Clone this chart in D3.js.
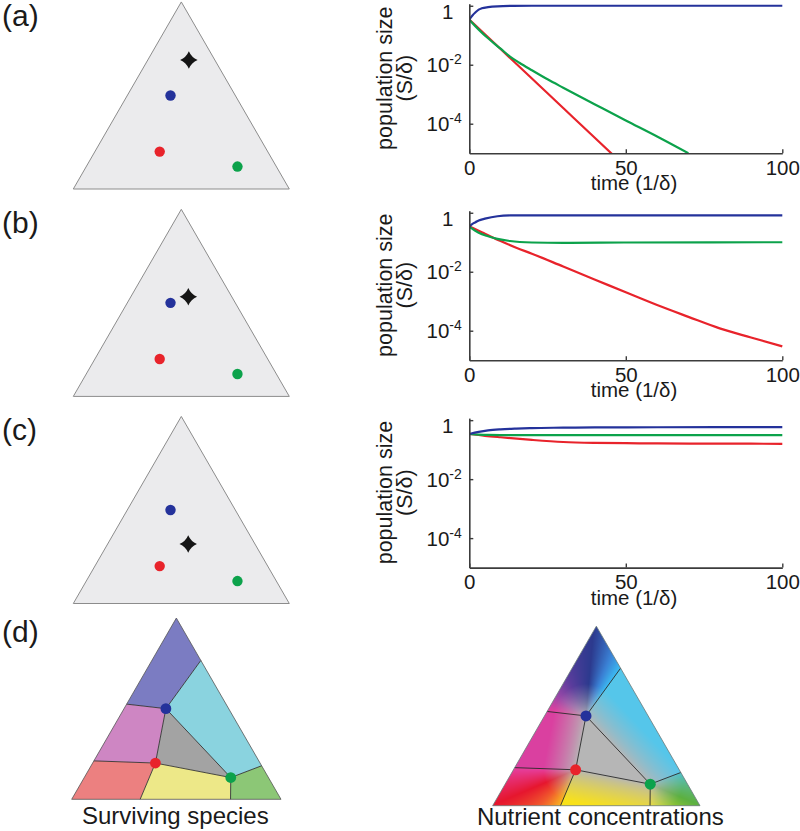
<!DOCTYPE html>
<html>
<head>
<meta charset="utf-8">
<script src="https://cdn.jsdelivr.net/npm/d3@7/dist/d3.min.js"></script>
<style>
html,body{margin:0;padding:0;background:#fff;}
svg{display:block;font-family:"Liberation Sans",Arial,Helvetica,sans-serif;}
</style>
</head>
<body>
<svg id="chart" width="800" height="831"></svg>
<script>
// ================= DATA =================
const panelLabels = ["(a)", "(b)", "(c)", "(d)"];
const xTickValues = [0, 50, 100];
const yTickValues = [1e-4, 1e-2, 1];
const xTitle = "time (1/δ)";
const yTitleLines = ["population size", "(S/δ)"];
const bottomTitles = ["Surviving species", "Nutrient concentrations"];

const speciesNames = ["blue", "red", "green"];
const speciesColors = ["#24329b", "#e8232b", "#0ca24b"];
// ternary coordinates (top, left, right) of species strategies
const speciesTop = [0.50, 0.20, 0.12];
const speciesLeft = [0.30, 0.50, 0.18];
const speciesRight = [0.20, 0.30, 0.70];
// supply point (star) for panels a, b, c
const supplyTop = [0.690, 0.533, 0.318];
const supplyLeft = [0.120, 0.201, 0.309];
const supplyRight = [0.190, 0.266, 0.373];

// ----- time series, panel (a) -----
const tBlueA = [0, 1, 2, 3, 4, 6, 9, 14, 20, 100];
const blueA = [0.34, 0.47, 0.60, 0.74, 0.82, 0.90, 0.96, 0.99, 1.0, 1.0];
const tRedA = [0, 10, 20, 30, 40, 47];
const redA = [0.34, 0.034, 3.4e-3, 3.4e-4, 3.4e-5, 6.8e-6];
const tGreenA = [0, 2, 4, 6, 8, 10, 13, 16, 20, 25, 30, 35, 40, 50, 60, 70];
const greenA = [0.34, 0.20, 0.123, 0.079, 0.052, 0.035, 0.019, 0.0117, 6.5e-3, 3.2e-3, 1.66e-3, 8.7e-4, 4.6e-4, 1.29e-4, 3.7e-5, 1.0e-5];
// ----- panel (b) -----
const tBlueB = [0, 1, 2, 3, 5, 9, 13, 20, 100];
const blueB = [0.34, 0.42, 0.48, 0.55, 0.63, 0.76, 0.81, 0.82, 0.82];
const tRedB = [0, 2, 5, 10, 15, 20, 30, 40, 50, 60, 70, 80, 90, 100];
const redB = [0.34, 0.275, 0.195, 0.11, 0.065, 0.041, 0.015, 5.5e-3, 2.0e-3, 7.4e-4, 2.95e-4, 1.2e-4, 5.9e-5, 2.95e-5];
const tGreenB = [0, 3, 6, 9, 13, 20, 30, 50, 100];
const greenB = [0.34, 0.21, 0.16, 0.13, 0.11, 0.098, 0.095, 0.098, 0.10];
// ----- panel (c) -----
const tBlueC = [0, 3, 6, 10, 15, 20, 30, 40, 60, 100];
const blueC = [0.34, 0.40, 0.45, 0.49, 0.52, 0.54, 0.556, 0.57, 0.575, 0.58];
const tRedC = [0, 5, 10, 20, 30, 40, 50, 60, 80, 100];
const redC = [0.34, 0.295, 0.263, 0.214, 0.182, 0.17, 0.166, 0.162, 0.16, 0.158];
const tGreenC = [0, 3, 6, 10, 100];
const greenC = [0.34, 0.324, 0.316, 0.313, 0.313];

// ----- panel (d): partition of the simplex -----
const edgePointNames = ["top", "left", "right", "L1", "L2", "P1", "P2", "B1", "B2"];
const edgePointTop   = [1, 0, 0, 0.525, 0.212, 0.766, 0.185, 0, 0];
const edgePointLeft  = [0, 1, 0, 0.475, 0.788, 0, 0, 0.673, 0.241];
const edgePointRight = [0, 0, 1, 0, 0, 0.234, 0.815, 0.327, 0.759];
const regionVertices = [
  ["top", "P1", "blue", "L1"],
  ["P1", "P2", "green", "blue"],
  ["L1", "blue", "red", "L2"],
  ["blue", "green", "red"],
  ["L2", "red", "B1", "left"],
  ["red", "green", "B2", "B1"],
  ["green", "P2", "right", "B2"]
];
const regionSpecies = [["blue"], ["blue", "green"], ["blue", "red"], ["blue", "red", "green"], ["red"], ["red", "green"], ["green"]];
const regionFills = ["#7b7cc2", "#8ad3df", "#ce86c3", "#a3a3a3", "#ec8080", "#ede888", "#8cc776"];
const boundarySegments = [["P1", "blue"], ["L1", "blue"], ["blue", "red"], ["blue", "green"], ["red", "green"],
  ["L2", "red"], ["red", "B1"], ["green", "B2"], ["green", "P2"]];

// nutrient colour map (direction angle -> hue colour)
const hueAngles = [0, 20, 43, 55, 68, 85, 115, 145, 170, 180, 203, 225, 248, 260, 275, 300, 337, 360];
const hueColors = ["#5ab888", "#50c0c8", "#56c6ea", "#3cb8f0", "#3a80d4", "#2c3a8e", "#5a3c9c", "#9a48a8",
  "#dc40a0", "#e63c98", "#e6162e", "#f05a2c", "#f8b820", "#f8e41a", "#f0e420", "#b8d42c", "#5cb040", "#5ab888"];

// ================= DRAW =================
const svg = d3.select("#chart");
const defs = svg.append("defs");
const textColor = "#1a1a1a";

function ternary(layout) {
  const width = layout.right - layout.left;
  const height = width * Math.sqrt(3) / 2;
  const sx = d3.scaleLinear().domain([0, 1]).range([layout.left, layout.right]);
  const sy = d3.scaleLinear().domain([0, 1]).range([layout.bottom, layout.bottom - height]);
  const f = (a, b, c) => { const s = a + b + c; a /= s; c /= s; return [sx(c + a / 2), sy(a)]; };
  f.height = height; f.width = width; f.sx = sx; f.sy = sy; f.layout = layout;
  return f;
}

const star4 = {
  draw(ctx, size) {
    const r = Math.sqrt(size) / 2, k = r * 0.3;
    ctx.moveTo(0, -r);
    ctx.quadraticCurveTo(k, -k, r, 0);
    ctx.quadraticCurveTo(k, k, 0, r);
    ctx.quadraticCurveTo(-k, k, -r, 0);
    ctx.quadraticCurveTo(-k, -k, 0, -r);
    ctx.closePath();
  }
};

function speciesXY(T) {
  return speciesNames.map((n, i) => T(speciesTop[i], speciesLeft[i], speciesRight[i]));
}
function namedPoints(T) {
  const m = {};
  edgePointNames.forEach((n, i) => { m[n] = T(edgePointTop[i], edgePointLeft[i], edgePointRight[i]); });
  speciesNames.forEach((n, i) => { m[n] = T(speciesTop[i], speciesLeft[i], speciesRight[i]); });
  return m;
}
function triPoints(T) { return [T(1, 0, 0), T(0, 1, 0), T(0, 0, 1)]; }

// ---- panels a,b,c triangles ----
const triLayouts = [
  { left: 73.3, right: 289.3, bottom: 189.0 },
  { left: 73.3, right: 289.3, bottom: 396.4 },
  { left: 73.3, right: 289.3, bottom: 603.5 }
];
triLayouts.forEach((lay, p) => {
  const T = ternary(lay);
  const g = svg.append("g");
  g.append("polygon").attr("points", triPoints(T).join(" "))
    .attr("fill", "#ebebed").attr("stroke", "#8c8c8c").attr("stroke-width", 1);
  g.selectAll("circle").data(speciesXY(T)).join("circle")
    .attr("cx", d => d[0]).attr("cy", d => d[1]).attr("r", 5.2)
    .attr("fill", (d, i) => speciesColors[i]);
  const s = T(supplyTop[p], supplyLeft[p], supplyRight[p]);
  g.append("path").attr("d", d3.symbol().type(star4).size(17.5 * 17.5)())
    .attr("transform", `translate(${s[0]},${s[1]})`).attr("fill", "#151515");
});

// ---- time-series plots ----
const plotBottoms = [153.2, 360.2, 567.6];
const seriesByPanel = [
  [[tRedA, redA], [tGreenA, greenA], [tBlueA, blueA]],
  [[tRedB, redB], [tGreenB, greenB], [tBlueB, blueB]],
  [[tRedC, redC], [tGreenC, greenC], [tBlueC, blueC]]
];
const seriesColorOrder = [speciesColors[1], speciesColors[2], speciesColors[0]];
const xScale = d3.scaleLinear().domain([0, 100]).range([469.3, 782.3]);
const axisX = xScale(0);

plotBottoms.forEach((bottom, p) => {
  const yScale = d3.scaleLog().domain([1e-5, Math.pow(10, 0.07)]).range([bottom, bottom - 149.5]);
  const g = svg.append("g");
  const clipId = "clip" + p;
  defs.append("clipPath").attr("id", clipId).append("rect")
    .attr("x", xScale(0)).attr("y", yScale.range()[1] - 5)
    .attr("width", xScale(100) - xScale(0) + 5).attr("height", bottom - yScale.range()[1] + 5);

  const line = d3.line().x(d => xScale(d[0])).y(d => yScale(d[1])).curve(d3.curveMonotoneX);
  const lg = g.append("g").attr("clip-path", `url(#${clipId})`);
  seriesByPanel[p].forEach(([ts, vs], k) => {
    lg.append("path").datum(ts.map((t, i) => [t, vs[i]]))
      .attr("d", line).attr("fill", "none")
      .attr("stroke", seriesColorOrder[k]).attr("stroke-width", 2.2)
      .attr("stroke-linejoin", "round").attr("stroke-linecap", "butt");
  });

  // axes (MATLAB style ticks inside)
  const xa = g.append("g").attr("transform", `translate(0,${bottom})`)
    .call(d3.axisBottom(xScale).tickValues(xTickValues).tickSizeInner(-4).tickSizeOuter(0).tickPadding(7)
      .tickFormat(d3.format("d")));
  const ya = g.append("g").attr("transform", `translate(${axisX},0)`)
    .call(d3.axisLeft(yScale).tickValues(yTickValues).tickSizeInner(-4).tickSizeOuter(0).tickFormat(() => ""));
  [xa, ya].forEach(a => {
    a.select(".domain").attr("stroke", "#3c3c3c").attr("stroke-width", 1.6);
    a.selectAll(".tick line").attr("stroke", "#3c3c3c").attr("stroke-width", 1.4);
  });
  xa.selectAll(".tick text").attr("font-size", 20.5).attr("fill", textColor)
    .attr("font-family", "'Liberation Sans',Arial,sans-serif");

  // y tick labels with superscripts
  yTickValues.forEach(v => {
    const e = Math.round(Math.log10(v));
    const y = yScale(v);
    if (e === 0) {
      g.append("text").attr("x", axisX - 16).attr("y", y + 13).attr("text-anchor", "end")
        .attr("font-size", 20.5).attr("fill", textColor).text("1");
    } else {
      const t = g.append("text").attr("x", axisX - 7.5).attr("y", y + 7.5).attr("text-anchor", "end")
        .attr("font-size", 20.5).attr("fill", textColor);
      t.append("tspan").text("10");
      t.append("tspan").attr("dy", -8).attr("font-size", 14).text("-" + Math.abs(e));
    }
  });

  // axis titles
  g.append("text").attr("x", 634).attr("y", bottom + 37).attr("text-anchor", "middle")
    .attr("font-size", 20.5).attr("fill", textColor).text(xTitle);
  const cy = bottom - 75;
  yTitleLines.forEach((s, i) => {
    g.append("text").attr("transform", `translate(${392 + i * 20},${cy}) rotate(-90)`)
      .attr("text-anchor", "middle").attr("font-size", 21.5).attr("fill", textColor).text(s);
  });
});

// ---- panel labels ----
const labelBaselines = [26, 233, 440, 642];
panelLabels.forEach((s, i) => {
  svg.append("text").attr("x", 2).attr("y", labelBaselines[i]).attr("font-size", 30)
    .attr("fill", textColor).text(s);
});

// ---- (d) left: surviving species ----
(function () {
  const T = ternary({ left: 71.7, right: 281.0, bottom: 799.3 });
  const P = namedPoints(T);
  const g = svg.append("g");
  g.selectAll("polygon.reg").data(regionVertices).join("polygon").attr("class", "reg")
    .attr("points", d => d.map(n => P[n]).join(" "))
    .attr("fill", (d, i) => regionFills[i]).attr("stroke", "none");
  g.selectAll("line.seg").data(boundarySegments).join("line").attr("class", "seg")
    .attr("x1", d => P[d[0]][0]).attr("y1", d => P[d[0]][1])
    .attr("x2", d => P[d[1]][0]).attr("y2", d => P[d[1]][1])
    .attr("stroke", "#333").attr("stroke-width", 0.9);
  g.append("polygon").attr("points", triPoints(T).join(" ")).attr("fill", "none")
    .attr("stroke", "#555").attr("stroke-width", 0.8);
  g.selectAll("circle").data(speciesXY(T)).join("circle")
    .attr("cx", d => d[0]).attr("cy", d => d[1]).attr("r", 5.4)
    .attr("fill", (d, i) => speciesColors[i]);
  g.append("text").attr("x", (T.sx(0) + T.sx(1)) / 2 - 1).attr("y", 824).attr("text-anchor", "middle")
    .attr("font-size", 24).attr("fill", textColor).text(bottomTitles[0]);
})();

// ---- (d) right: nutrient concentrations ----
(function () {
  const T = ternary({ left: 492.7, right: 700.0, bottom: 805.7 });
  const P = namedPoints(T);
  const dots = speciesXY(T);
  const polys = regionVertices.map(r => r.map(n => P[n]));
  const hueScale = d3.scaleLinear().domain(hueAngles).range(hueColors).interpolate(d3.interpolateRgb);
  const grayC = d3.rgb("#b6b6b6");
  const satDist = 32;

  function colorAt(px, py) {
    let k = polys.findIndex(poly => d3.polygonContains(poly, [px, py]));
    if (k < 0) return grayC;
    const sp = regionSpecies[k].map(n => speciesNames.indexOf(n));
    if (sp.length === 3) return grayC;
    let dx, dy, dist;
    if (sp.length === 1) {
      const d = dots[sp[0]];
      dx = px - d[0]; dy = py - d[1]; dist = Math.hypot(dx, dy);
    } else {
      const A = dots[sp[0]], B = dots[sp[1]];
      const other = [0, 1, 2].find(i => !sp.includes(i));
      const C = dots[other];
      const ex = B[0] - A[0], ey = B[1] - A[1], L = Math.hypot(ex, ey);
      let nx = -ey / L, ny = ex / L;
      if ((C[0] - A[0]) * nx + (C[1] - A[1]) * ny > 0) { nx = -nx; ny = -ny; }
      dist = (px - A[0]) * nx + (py - A[1]) * ny;
      dx = nx; dy = ny;
    }
    let ang = Math.atan2(-dy, dx) * 180 / Math.PI;
    if (ang < 0) ang += 360;
    const hue = d3.rgb(hueScale(ang));
    const s = Math.pow(Math.min(1, Math.max(0, dist) / satDist), 0.75);
    return d3.rgb(grayC.r + (hue.r - grayC.r) * s, grayC.g + (hue.g - grayC.g) * s, grayC.b + (hue.b - grayC.b) * s);
  }

  const lay = T.layout;
  const x0 = Math.floor(lay.left), x1 = Math.ceil(lay.right);
  const y0 = Math.floor(lay.bottom - T.height), y1 = Math.ceil(lay.bottom);
  const w = x1 - x0, h = y1 - y0;
  const cv = document.createElement("canvas");
  cv.width = w; cv.height = h;
  const ctx = cv.getContext("2d");
  const img = ctx.createImageData(w, h);
  for (let j = 0; j < h; j++) {
    for (let i = 0; i < w; i++) {
      const X = x0 + i + 0.5, Y = y0 + j + 0.5;
      let a = T.sy.invert(Y);
      let c = T.sx.invert(X) - a / 2;
      let b = 1 - a - c;
      a = Math.max(a, 0.002); b = Math.max(b, 0.002); c = Math.max(c, 0.002);
      const q = T(a, b, c);
      const col = colorAt(q[0], q[1]);
      const o = (j * w + i) * 4;
      img.data[o] = col.r; img.data[o + 1] = col.g; img.data[o + 2] = col.b; img.data[o + 3] = 255;
    }
  }
  ctx.putImageData(img, 0, 0);

  const g = svg.append("g");
  defs.append("clipPath").attr("id", "triClipR").append("polygon").attr("points", triPoints(T).join(" "));
  g.append("image").attr("href", cv.toDataURL()).attr("x", x0).attr("y", y0)
    .attr("width", w).attr("height", h).attr("clip-path", "url(#triClipR)");
  g.selectAll("line.seg").data(boundarySegments).join("line").attr("class", "seg")
    .attr("x1", d => P[d[0]][0]).attr("y1", d => P[d[0]][1])
    .attr("x2", d => P[d[1]][0]).attr("y2", d => P[d[1]][1])
    .attr("stroke", "#2a2a2a").attr("stroke-width", 0.9);
  g.append("polygon").attr("points", triPoints(T).join(" ")).attr("fill", "none")
    .attr("stroke", "#6a7a7a").attr("stroke-width", 0.8);
  g.selectAll("circle").data(dots).join("circle")
    .attr("cx", d => d[0]).attr("cy", d => d[1]).attr("r", 5.5)
    .attr("fill", (d, i) => speciesColors[i]);
  g.append("text").attr("x", (T.sx(0) + T.sx(1)) / 2 + 4).attr("y", 825).attr("text-anchor", "middle")
    .attr("font-size", 24).attr("fill", textColor).text(bottomTitles[1]);
})();
</script>
</body>
</html>
